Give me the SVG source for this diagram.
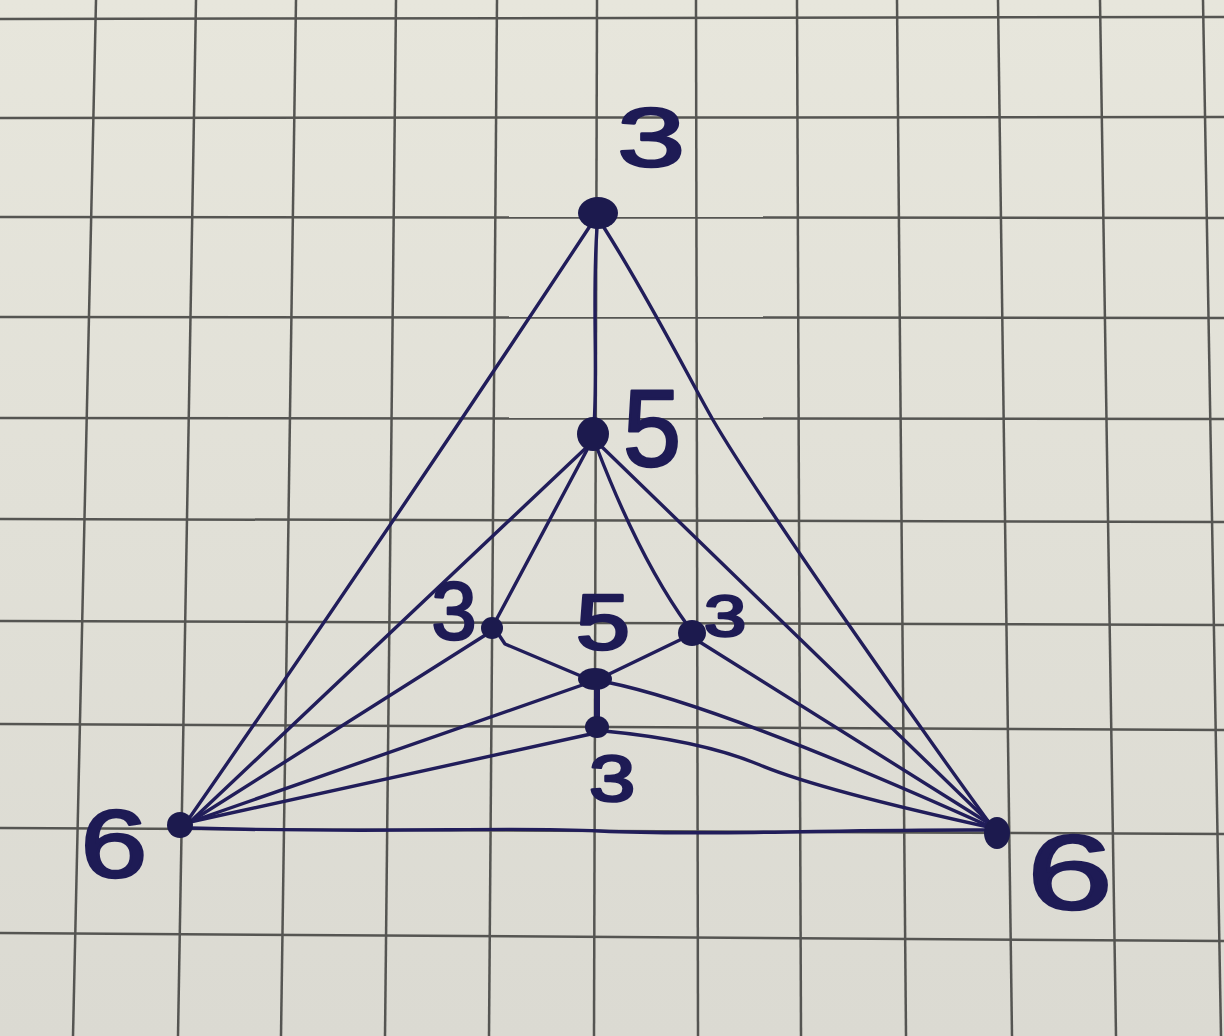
<svg xmlns="http://www.w3.org/2000/svg" width="1224" height="1036" viewBox="0 0 1224 1036">
<style>
.grid line{stroke:#555552;stroke-width:2.5}
.edge{fill:none;stroke:#211d5a;stroke-width:3.4;stroke-linecap:round;stroke-linejoin:round}
.dot{fill:#1c1a4e}
.lbl{font-family:"Liberation Sans","DejaVu Sans",sans-serif;fill:#1e1b55;stroke:#1e1b55;stroke-width:2.6;stroke-linejoin:round;text-anchor:middle}
</style>
<defs>
<linearGradient id="paper" x1="0" y1="0" x2="0" y2="1">
<stop offset="0" stop-color="#e7e6dc"/>
<stop offset="1" stop-color="#dbdad2"/>
</linearGradient>
</defs>
<rect width="1224" height="1036" fill="url(#paper)"/>
<g class="grid">
<line x1="96" y1="0" x2="73" y2="1036"/>
<line x1="196" y1="0" x2="178" y2="1036"/>
<line x1="296" y1="0" x2="281" y2="1036"/>
<line x1="396" y1="0" x2="385" y2="1036"/>
<line x1="497" y1="0" x2="489" y2="1036"/>
<line x1="597" y1="0" x2="594" y2="1036"/>
<line x1="696" y1="0" x2="698" y2="1036"/>
<line x1="797" y1="0" x2="801" y2="1036"/>
<line x1="897" y1="0" x2="906" y2="1036"/>
<line x1="998" y1="0" x2="1012" y2="1036"/>
<line x1="1100" y1="0" x2="1116" y2="1036"/>
<line x1="1203" y1="0" x2="1221" y2="1036"/>
<line x1="0" y1="19" x2="1224" y2="17"/>
<line x1="0" y1="118" x2="1224" y2="117"/>
<line x1="0" y1="217" x2="1224" y2="218"/>
<line x1="0" y1="317" x2="1224" y2="318"/>
<line x1="0" y1="418" x2="1224" y2="419"/>
<line x1="0" y1="519" x2="1224" y2="522"/>
<line x1="0" y1="621" x2="1224" y2="625"/>
<line x1="0" y1="724" x2="1224" y2="730"/>
<line x1="0" y1="828" x2="1224" y2="834"/>
<line x1="0" y1="933" x2="1224" y2="941"/>
</g>
<g id="connectors">
<path id="e-A-B" class="edge" d="M597,228 C592,300 598,370 594,425"/>
<path id="e-A-L" class="edge" d="M590,226 Q396,520 188,820"/>
<path id="e-A-R" class="edge" d="M603,226 C650,300 690,380 713,420 C760,500 900,700 993,828"/>
<path id="e-L-R" class="edge" d="M190,828 C400,834 500,826 600,831 S850,829 990,830"/>
<path id="e-B-L" class="edge" d="M588,446 L190,822"/>
<path id="e-B-C" class="edge" d="M588,448 L494,624"/>
<path id="e-B-D" class="edge" d="M597,448 Q640,560 688,626"/>
<path id="e-B-R" class="edge" d="M601,446 L993,826"/>
<path id="e-C-L" class="edge" d="M487,634 L190,822"/>
<path id="e-C-E" class="edge" d="M497,632 L505,644 L588,679"/>
<path id="e-D-E" class="edge" d="M686,637 L603,677"/>
<path id="e-E-F" class="edge" d="M597,682 L597,725" style="stroke-width:6"/>
<path id="e-E-L" class="edge" d="M588,683 L190,822"/>
<path id="e-E-R" class="edge" d="M606,682 Q720,705 993,828"/>
<path id="e-F-L" class="edge" d="M591,734 L190,822"/>
<path id="e-F-R" class="edge" d="M604,731 Q700,740 760,765 T993,828"/>
<path id="e-D-R" class="edge" d="M695,639 L993,826"/>
</g>
<g id="node-A">
<ellipse class="dot" cx="598" cy="213" rx="20" ry="16"/>
<text class="lbl" font-size="84" transform="translate(651,166) scale(1.45,1)">3</text>
</g>
<g id="node-B">
<ellipse class="dot" cx="593" cy="434" rx="16" ry="17"/>
<text class="lbl" font-size="110" transform="translate(652,466) scale(0.95,1)">5</text>
</g>
<g id="node-C">
<ellipse class="dot" cx="492" cy="628" rx="11" ry="11"/>
<text class="lbl" font-size="81" transform="translate(454,639) scale(1,1)">3</text>
</g>
<g id="node-D">
<ellipse class="dot" cx="692" cy="633" rx="14" ry="13"/>
<text class="lbl" font-size="57" transform="translate(725,636) scale(1.33,1)">3</text>
</g>
<g id="node-E">
<ellipse class="dot" cx="595" cy="679" rx="17" ry="11"/>
<text class="lbl" font-size="77" transform="translate(603,649) scale(1.27,1)">5</text>
</g>
<g id="node-F">
<ellipse class="dot" cx="597" cy="727" rx="12" ry="11"/>
<text class="lbl" font-size="65" transform="translate(612,801) scale(1.28,1)">3</text>
</g>
<g id="node-L">
<ellipse class="dot" cx="180" cy="825" rx="13" ry="13"/>
<text class="lbl" font-size="97" transform="translate(114,877) scale(1.24,1)">6</text>
</g>
<g id="node-R">
<ellipse class="dot" cx="997" cy="833" rx="13" ry="16"/>
<text class="lbl" font-size="105" transform="translate(1070,909) scale(1.47,1)">6</text>
</g>
</svg>
